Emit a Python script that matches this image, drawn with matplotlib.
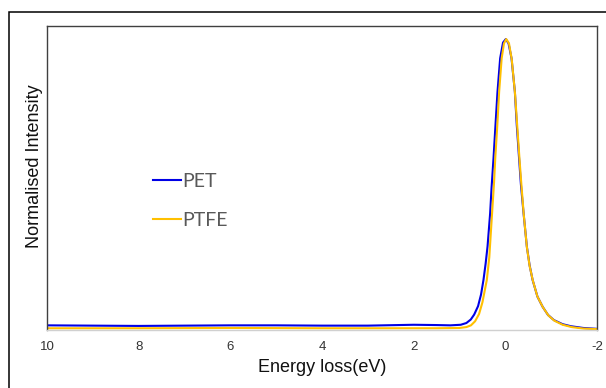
import matplotlib
matplotlib.use("Agg")
import matplotlib.pyplot as plt
from matplotlib.patches import Rectangle

# values
pet_energy = [10, 9, 8, 7, 6, 5, 4, 3, 2, 1.5, 1.2, 0.973, 0.85, 0.754, 0.68,
              0.595, 0.53, 0.477, 0.43, 0.389, 0.332, 0.30, 0.258, 0.215, 0.171,
              0.113, 0.05, -0.01, -0.07, -0.135, -0.208, -0.25, -0.30, -0.34,
              -0.398, -0.47, -0.53, -0.595, -0.70, -0.813, -0.93, -1.06, -1.25,
              -1.43, -1.7, -2.0]
pet_intensity = [0.016, 0.015, 0.014, 0.015, 0.016, 0.016, 0.015, 0.015, 0.018,
                 0.017, 0.016, 0.018, 0.024, 0.036, 0.053, 0.082, 0.122, 0.172,
                 0.228, 0.286, 0.40, 0.49, 0.59, 0.704, 0.819, 0.934, 0.988, 1.0,
                 0.985, 0.934, 0.819, 0.704, 0.59, 0.50, 0.401, 0.286, 0.222,
                 0.172, 0.115, 0.080, 0.052, 0.034, 0.020, 0.013, 0.007, 0.004]

ptfe_energy = [10, 8, 6, 4, 2, 1.5, 1.0, 0.85, 0.75, 0.66, 0.573, 0.50, 0.45,
               0.404, 0.35, 0.29, 0.245, 0.22, 0.175, 0.135, 0.08, 0.03, -0.02,
               -0.08, -0.14, -0.21, -0.26, -0.31, -0.35, -0.40, -0.47, -0.53,
               -0.60, -0.70, -0.82, -0.94, -1.07, -1.25, -1.45, -1.7, -2.0]
ptfe_intensity = [0.006, 0.006, 0.007, 0.006, 0.006, 0.006, 0.007, 0.010, 0.016,
                  0.030, 0.055, 0.095, 0.135, 0.172, 0.25, 0.40, 0.51, 0.59,
                  0.704, 0.819, 0.934, 0.985, 1.0, 0.985, 0.93, 0.815, 0.70,
                  0.585, 0.50, 0.40, 0.285, 0.22, 0.17, 0.115, 0.078, 0.05,
                  0.032, 0.018, 0.010, 0.005, 0.003]

x_ticks = [10, 8, 6, 4, 2, 0, -2]

fig = plt.figure(figsize=(6.06, 3.88), dpi=100)
ax = fig.add_axes([47 / 606, 1 - 330 / 388, 550 / 606, 304 / 388])

# outer frame around the whole picture (runs off the right/bottom edge)
fig.patches.append(Rectangle((8.7 / 606, -0.2), 1.2, 0.969 + 0.2,
                             transform=fig.transFigure, fill=False,
                             edgecolor='black', linewidth=1.1))

ax.plot(pet_energy, pet_intensity, color='#0000E6', linewidth=1.5, label='PET')
ax.plot(ptfe_energy, ptfe_intensity, color='#FFC000', linewidth=1.5, label='PTFE')

ax.set_xlim(10, -2)
ax.set_ylim(0, 1.045)
ax.set_xticks(x_ticks)
ax.set_xticklabels([str(t) for t in x_ticks], family='Liberation Sans')
ax.set_yticks([])
ax.tick_params(axis='x', length=0, pad=8, labelsize=9.5, labelcolor='#333333')

for side in ['left', 'right', 'top']:
    ax.spines[side].set_color('#404040')
    ax.spines[side].set_linewidth(1.0)
ax.spines['bottom'].set_color('#D0D0D0')
ax.spines['bottom'].set_linewidth(1.0)

ax.set_xlabel('Energy loss(eV)', family='Liberation Sans', fontsize=13,
              labelpad=4, color='#111111')
ax.set_ylabel('Normalised Intensity', family='Liberation Sans', fontsize=13,
              color='#111111')
ax.yaxis.set_label_coords(-0.007, 0.539)

leg = ax.legend(loc='center left', bbox_to_anchor=(152.7 / 606, 1 - 200.9 / 388),
                bbox_transform=fig.transFigure, frameon=False, borderpad=0,
                borderaxespad=0, handlelength=1.45, handletextpad=0.05,
                labelspacing=1.15, prop={'family': 'Lato', 'size': 14})
for t in leg.get_texts():
    t.set_color('#595959')
for h in leg.get_lines():
    h.set_linewidth(1.5)

fig.savefig('out.png', dpi=100)
